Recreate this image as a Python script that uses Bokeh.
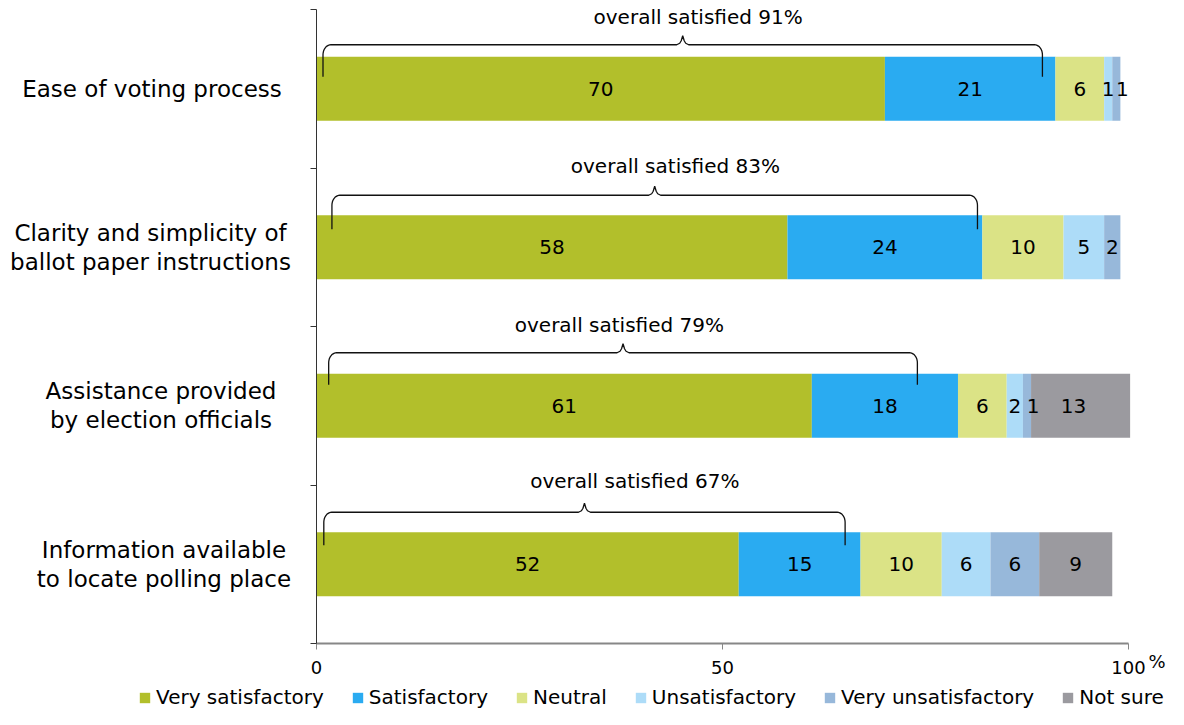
import numpy as np
from bokeh.plotting import figure
from bokeh.models import Range1d, FixedTicker, Legend, LegendItem, ColumnDataSource
from bokeh.core.properties import value
from bokeh.embed import file_html
from bokeh.resources import INLINE

# ---------------- data ----------------
category_lines = [
    ["Ease of voting process"],
    ["Clarity and simplicity of", "ballot paper instructions"],
    ["Assistance provided", "by election officials"],
    ["Information available", "to locate polling place"],
]
series_names = ["Very satisfactory", "Satisfactory", "Neutral",
                "Unsatisfactory", "Very unsatisfactory", "Not sure"]
very_satisfactory = [70, 58, 61, 52]
satisfactory = [21, 24, 18, 15]
neutral = [6, 10, 6, 10]
unsatisfactory = [1, 5, 2, 6]
very_unsatisfactory = [1, 2, 1, 6]
not_sure = [0, 0, 12.2, 9]
not_sure_labels = ["", "", "13", "9"]
overall_satisfied = [91, 83, 79, 67]
brace_start = [0.8, 1.9, 1.5, 0.9]
brace_end = [89.4, 81.4, 74.0, 65.1]
overall_text_x = [47.0, 44.2, 37.3, 39.2]
x_ticks = [0, 50, 100]

series_values = [very_satisfactory, satisfactory, neutral,
                 unsatisfactory, very_unsatisfactory, not_sure]
colors = ["#B2BF2B", "#2AABF1", "#DBE386", "#ADDCF8", "#97B8DA", "#9B9A9F"]

# ---------------- layout constants ----------------
FONT = "DejaVu Sans"
W, H = 1168, 709
X0PX, X100PX = 316, 1128        # canvas px of x=0 and x=100
Y0PX = 643                      # canvas px of y=0 (x axis)
PX = (X100PX - X0PX) / 100.0    # px per x unit
PY = 158.5                      # px per category band


def dx(px):
    return (px - X0PX) / PX


def dy(py):
    return (Y0PX - py) / PY


BAR_H = 64 / PY
n = len(category_lines)
yc = [n - 0.5 - i for i in range(n)]

brace_above = [12, 20, 21, 20]
brace_below = [20, 14, 11, 13]
text_above = [40, 49, 49, 51]
cat_center_px = [151.5, 150.0, 160.5, 163.5]
# small horizontal nudges (px) of segment labels, per series
label_nudge_px = [[0] * 4, [0] * 4, [0] * 4, [0] * 4, [6, 0, 6, 0], [0, 0, -7, 0]]

p = figure(width=W, height=H, output_backend="svg", toolbar_location=None,
           x_range=Range1d(dx(0), dx(W)), y_range=Range1d(dy(H), dy(0)),
           min_border=0)
p.outline_line_color = None
p.xgrid.visible = False
p.ygrid.visible = False
p.background_fill_color = "white"
p.border_fill_color = "white"

# ---------------- bars ----------------
left = np.zeros(n)
legend_items = []
lab_x, lab_y, lab_t = [], [], []
for k, (name, vals, col) in enumerate(zip(series_names, series_values, colors)):
    vals = np.array(vals, dtype=float)
    right = left + vals
    src = ColumnDataSource(dict(y=yc, left=left, right=right))
    r = p.hbar(y="y", left="left", right="right", height=BAR_H, source=src,
               fill_color=col, line_color=None)
    legend_items.append(LegendItem(label=name, renderers=[r]))
    if k == len(series_names) - 1:
        labs = not_sure_labels
    else:
        labs = [str(int(round(v))) if v > 0 else "" for v in vals]
    mids = (left + right) / 2 + np.array(label_nudge_px[k]) / PX
    for m, y, l in zip(mids, yc, labs):
        if l:
            lab_x.append(m)
            lab_y.append(y)
            lab_t.append(l)
    left = right

p.text(x=lab_x, y=lab_y, text=lab_t, text_align="center",
       text_baseline="middle", text_font=value(FONT),
       text_font_size="20px", text_color="#000000")

# ---------------- braces ----------------
xs_all, ys_all = [], []
t = np.linspace(0, np.pi / 2, 10)
rx, ry = 8 / PX, 10 / PY
for i in range(n):
    top = yc[i] + BAR_H / 2
    hy = top + brace_above[i] / PY
    ty = top - brace_below[i] / PY
    x0, x1 = brace_start[i], brace_end[i]
    xm = (x0 + x1) / 2
    lax = x0 + rx * (1 - np.cos(t))
    lay = hy - ry + ry * np.sin(t)
    rax = (x1 - rx * (1 - np.cos(t)))[::-1]
    ray = lay[::-1]
    nxo = np.array([-6, -3, -1.5, 0, 1.5, 3, 6]) / PX
    nyo = np.array([0, 1.5, 4, 9, 4, 1.5, 0]) / PY
    xs = [x0] + list(lax) + list(xm + nxo) + list(rax) + [x1]
    ys = [ty] + list(lay) + list(hy + nyo) + list(ray) + [ty]
    xs_all.append(xs)
    ys_all.append(ys)
p.multi_line(xs=xs_all, ys=ys_all, line_color="#111111", line_width=1.3)

osrc = ColumnDataSource(dict(
    x=overall_text_x,
    y=[yc[i] + BAR_H / 2 + text_above[i] / PY for i in range(n)],
    t=[f"overall satisfied {v}%" for v in overall_satisfied]))
p.text(x="x", y="y", text="t", source=osrc, text_align="center",
       text_baseline="middle", text_font=value(FONT), text_font_size="20px",
       text_color="#000000")

# ---------------- category labels ----------------
cx, cy, ct = [], [], []
for i, lines in enumerate(category_lines):
    m = len(lines)
    for j, line in enumerate(lines):
        off = (j - (m - 1) / 2) * 29
        cx.append(dx(cat_center_px[i]))
        cy.append(yc[i] - off / PY)
        ct.append(line)
p.text(x=cx, y=cy, text=ct, text_align="center", text_baseline="middle",
       text_font=value(FONT), text_font_size="23px", text_color="#000000")

# "%" unit label
p.text(x=[dx(1165)], y=[dy(661)], text=["%"], text_align="right",
       text_baseline="middle", text_font=value(FONT), text_font_size="18px",
       text_color="#000000")

# ---------------- axes ----------------
xa = p.xaxis[0]
xa.fixed_location = 0
xa.ticker = FixedTicker(ticks=x_ticks)
xa.bounds = (0, 100)
xa.axis_line_color = "#878787"
xa.axis_line_width = 2
xa.major_tick_line_color = "#878787"
xa.major_tick_out = 6
xa.major_tick_in = 0
xa.minor_tick_line_color = None
xa.major_label_text_font = FONT
xa.major_label_text_font_size = "18px"
xa.major_label_text_color = "#000000"
xa.major_label_standoff = 11

ya = p.yaxis[0]
ya.fixed_location = 0
ya.ticker = FixedTicker(ticks=[], minor_ticks=list(range(n + 1)))
ya.bounds = (0, n)
ya.axis_line_color = "#333333"
ya.axis_line_width = 1
ya.major_tick_line_color = None
ya.minor_tick_line_color = "#333333"
ya.minor_tick_out = 6
ya.minor_tick_in = 0

# ---------------- legend ----------------
legend = Legend(items=legend_items, orientation="horizontal",
                location=(138, 0),
                label_text_font=FONT, label_text_font_size="20px",
                label_text_color="#000000",
                glyph_width=13, glyph_height=13, label_standoff=5,
                spacing=27, padding=0, margin=0,
                border_line_color=None, background_fill_alpha=0)
p.add_layout(legend, "center")

open("out.html", "w").write(file_html(p, INLINE))
